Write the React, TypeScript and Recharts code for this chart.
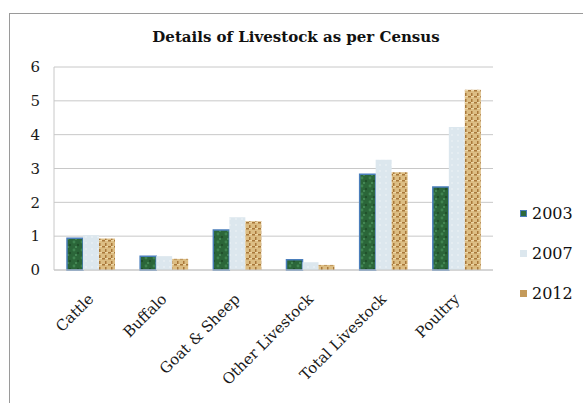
import { Bar, BarChart, CartesianGrid, XAxis, YAxis } from "recharts";

const categories = ["Cattle", "Buffalo", "Goat & Sheep", "Other Livestock", "Total Livestock", "Poultry"];
const values2003 = [0.94, 0.41, 1.18, 0.3, 2.83, 2.45];
const values2007 = [1.03, 0.41, 1.56, 0.23, 3.26, 4.23];
const values2012 = [0.93, 0.33, 1.44, 0.15, 2.89, 5.33];
const yTicks = [0, 1, 2, 3, 4, 5, 6];

const series = [
  { key: "y2003", name: "2003", fill: "url(#greenMarble)", stroke: "#4a7ebb", swatch: "#2d6a3c" },
  { key: "y2007", name: "2007", fill: "url(#paleBlue)", stroke: "none", swatch: "#dce7ee" },
  { key: "y2012", name: "2012", fill: "url(#burlap)", stroke: "none", swatch: "#c49a5a" },
];

const data = categories.map((c, i) => ({
  name: c,
  y2003: values2003[i],
  y2007: values2007[i],
  y2012: values2012[i],
}));

const FONT = "'DejaVu Serif', 'Liberation Serif', serif";

function CategoryTick(props: any) {
  const { x, y, payload } = props;
  const ax = x + 4;
  const ay = y + 22;
  return (
    <text
      x={ax}
      y={ay}
      transform={`rotate(-45, ${ax}, ${ay})`}
      textAnchor="end"
      fontFamily={FONT}
      fontSize={15}
      fill="#1a1a1a"
    >
      {payload.value}
    </text>
  );
}

export default function App() {
  return (
    <div style={{ position: "absolute", left: 0, top: 0, width: 583, height: 403, background: "#fff", overflow: "hidden" }}>
      <div
        style={{
          position: "absolute",
          left: 9,
          top: 13,
          width: 600,
          height: 420,
          borderTop: "1px solid #9a9a9a",
          borderLeft: "1px solid #9a9a9a",
        }}
      />
      <div
        style={{
          position: "absolute",
          left: 0,
          width: 592,
          top: 28,
          textAlign: "center",
          fontFamily: FONT,
          fontWeight: "bold",
          fontSize: 15,
          color: "#111",
        }}
      >
        Details of Livestock as per Census
      </div>
      <div style={{ position: "absolute", left: 0, top: 0 }}>
        <BarChart
          width={583}
          height={403}
          data={data}
          margin={{ top: 67, right: 90, bottom: 0, left: 10 }}
          barGap={0}
          barSize={16}
        >
          <defs>
            <pattern id="greenMarble" width="8" height="8" patternUnits="userSpaceOnUse">
              <rect width="8" height="8" fill="#2b6639" />
              <circle cx="2" cy="2" r="1.4" fill="#3f8450" />
              <circle cx="6" cy="5" r="1.2" fill="#1f4f2a" />
              <circle cx="4" cy="7" r="0.9" fill="#4e9560" />
            </pattern>
            <pattern id="paleBlue" width="6" height="6" patternUnits="userSpaceOnUse">
              <rect width="6" height="6" fill="#dce7ee" />
              <circle cx="2" cy="3" r="1" fill="#e8f0f4" />
            </pattern>
            <pattern id="burlap" width="6" height="6" patternUnits="userSpaceOnUse">
              <rect width="6" height="6" fill="#dcbd83" />
              <rect x="0" y="0" width="3" height="1.5" fill="#a9783a" />
              <rect x="3" y="3" width="1.5" height="3" fill="#a9783a" />
              <rect x="3" y="0" width="3" height="1" fill="#eed7a6" />
            </pattern>
          </defs>
          <CartesianGrid vertical={false} stroke="#c8c8c8" />
          <XAxis
            dataKey="name"
            interval={0}
            height={133}
            tickLine={false}
            axisLine={{ stroke: "#c8c8c8" }}
            tick={<CategoryTick />}
          />
          <YAxis
            domain={[0, 6]}
            ticks={yTicks}
            width={44}
            tickLine={false}
            tickSize={0}
            tickMargin={14}
            axisLine={{ stroke: "#c8c8c8" }}
            tick={{ fontFamily: FONT, fontSize: 15, fill: "#1a1a1a" }}
          />
          {series.map((s) => (
            <Bar
              key={s.key}
              dataKey={s.key}
              name={s.name}
              fill={s.fill}
              stroke={s.stroke}
              strokeWidth={1.5}
              isAnimationActive={false}
            />
          ))}
        </BarChart>
      </div>
      {series.map((s, i) => (
        <div
          key={s.key}
          style={{
            position: "absolute",
            left: 520,
            top: 204 + i * 40,
            display: "flex",
            alignItems: "center",
            fontFamily: FONT,
            fontSize: 16,
            color: "#111",
          }}
        >
          <span
            style={{
              display: "inline-block",
              width: 7,
              height: 7,
              marginRight: 5,
              boxSizing: "border-box",
              background: s.swatch,
              border: s.stroke === "none" ? "none" : `1px solid ${s.stroke}`,
            }}
          />
          {s.name}
        </div>
      ))}
    </div>
  );
}
